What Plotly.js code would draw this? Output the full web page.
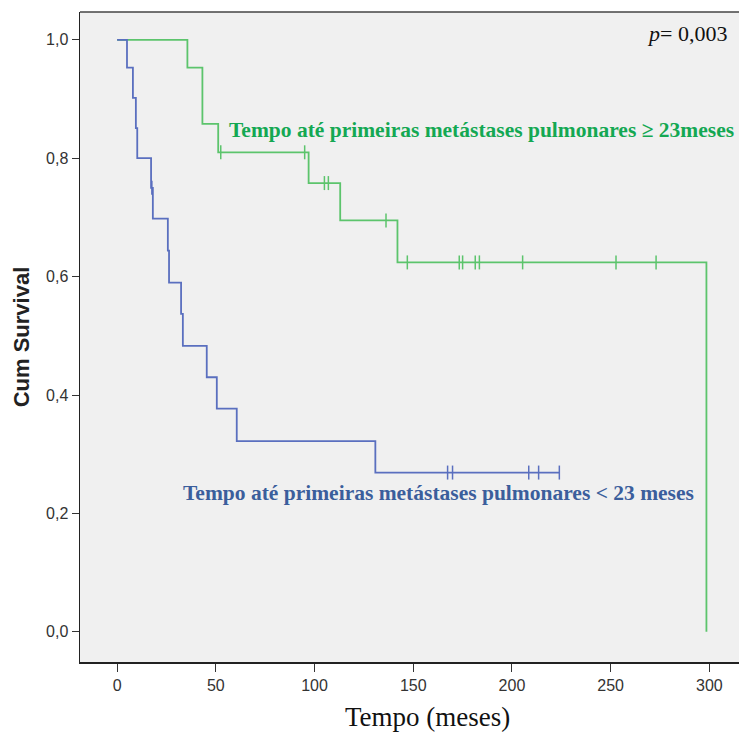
<!DOCTYPE html>
<html>
<head>
<meta charset="utf-8">
<script src="https://cdn.plot.ly/plotly-3.0.1.min.js"></script>
<style>html,body{margin:0;padding:0;background:#fff;}#chart{width:739px;height:735px;}</style>
</head>
<body>
<div id="chart"></div>
<script>
// Group < 23 months (blue): step curve
const blueTimes = [0, 5, 8, 9.5, 10.2, 17.2, 18.1, 25.7, 26.3, 32.4, 33.3, 45.4, 50.5, 60.6, 130.8, 224];
const blueSurv  = [1.0, 0.953, 0.902, 0.851, 0.800, 0.750, 0.698, 0.644, 0.590, 0.537, 0.483, 0.430, 0.377, 0.322, 0.269, 0.269];
const blueCensorTimes = [17.6, 167.4, 169.9, 208.5, 213.5, 224];
const blueCensorSurv  = [0.750, 0.269, 0.269, 0.269, 0.269, 0.269];

// Group >= 23 months (green): step curve
const greenTimes = [0, 35.6, 43.2, 51.2, 97, 113, 142, 298.5];
const greenSurv  = [1.0, 0.953, 0.858, 0.810, 0.758, 0.695, 0.624, 0.0];
const greenCensorTimes = [52.5, 95, 105, 107, 136.2, 147, 173.3, 175, 181.4, 183.5, 205.4, 252.7, 273];
const greenCensorSurv  = [0.810, 0.810, 0.758, 0.758, 0.695, 0.624, 0.624, 0.624, 0.624, 0.624, 0.624, 0.624, 0.624];

const xTicks = [0, 50, 100, 150, 200, 250, 300];
const yTicks = [0, 0.2, 0.4, 0.6, 0.8, 1.0];
const yTickText = ["0,0", "0,2", "0,4", "0,6", "0,8", "1,0"];

const blueLine = '#5a6fbf';
const greenLine = '#5cc46c';

const traces = [
  {x: greenTimes, y: greenSurv, type: 'scatter', mode: 'lines', line: {shape: 'hv', color: greenLine, width: 1.8}, hoverinfo: 'skip'},
  {x: blueTimes, y: blueSurv, type: 'scatter', mode: 'lines', line: {shape: 'hv', color: blueLine, width: 1.8}, hoverinfo: 'skip'},
  {x: greenCensorTimes, y: greenCensorSurv, type: 'scatter', mode: 'markers',
   marker: {symbol: 'line-ns', size: 10, line: {color: greenLine, width: 1.5}}, hoverinfo: 'skip'},
  {x: blueCensorTimes, y: blueCensorSurv, type: 'scatter', mode: 'markers',
   marker: {symbol: 'line-ns', size: 10, line: {color: blueLine, width: 1.5}}, hoverinfo: 'skip'}
];

const layout = {
  width: 739, height: 735,
  margin: {l: 80, r: 0, t: 12, b: 73},
  paper_bgcolor: '#ffffff',
  plot_bgcolor: '#f0f0f0',
  showlegend: false,
  xaxis: {
    range: [-18.8, 315],
    tickvals: xTicks,
    ticks: 'outside', ticklen: 8, tickwidth: 1, tickcolor: '#333',
    showgrid: false, zeroline: false,
    showline: true, linecolor: '#222', linewidth: 1.5,
    tickfont: {family: 'Liberation Sans, Arial', size: 16, color: '#333'}
  },
  yaxis: {
    range: [-0.051, 1.047],
    tickvals: yTicks, ticktext: yTickText,
    ticks: 'outside', ticklen: 7, tickwidth: 1, tickcolor: '#333',
    showgrid: false, zeroline: false,
    showline: true, linecolor: '#222', linewidth: 1.5,
    tickfont: {family: 'Liberation Sans, Arial', size: 16, color: '#333'},
    title: {text: '<b>Cum Survival</b>', font: {family: 'Liberation Sans, Arial', size: 22, color: '#222'}, standoff: 10}
  },
  shapes: [
    {type: 'line', xref: 'paper', yref: 'paper', x0: 0, x1: 1, y0: 1, y1: 1, line: {color: '#444', width: 1.5}}
  ],
  annotations: [
    {xref: 'x', yref: 'paper', x: 157, y: -0.085, xanchor: 'center', yanchor: 'middle', showarrow: false,
     text: 'Tempo (meses)', font: {family: 'Liberation Serif, Times New Roman', size: 27, color: '#111'}},
    {xref: 'paper', yref: 'paper', x: 0.985, y: 0.967, xanchor: 'right', yanchor: 'middle', showarrow: false,
     text: '<i>p</i>= 0,003', font: {family: 'Liberation Serif, Times New Roman', size: 22, color: '#111'}},
    {xref: 'x', yref: 'y', x: 55.5, y: 0.848, xanchor: 'left', yanchor: 'middle', showarrow: false,
     text: '<b>Tempo até primeiras metástases pulmonares ≥ 23meses</b>',
     font: {family: 'Liberation Serif, Times New Roman', size: 21.5, color: '#14a853'}},
    {xref: 'x', yref: 'y', x: 32.5, y: 0.235, xanchor: 'left', yanchor: 'middle', showarrow: false,
     text: '<b>Tempo até primeiras metástases pulmonares &lt; 23 meses</b>',
     font: {family: 'Liberation Serif, Times New Roman', size: 21.5, color: '#3b5e9c'}}
  ]
};

Plotly.newPlot('chart', traces, layout, {displayModeBar: false, staticPlot: true});
</script>
</body>
</html>
